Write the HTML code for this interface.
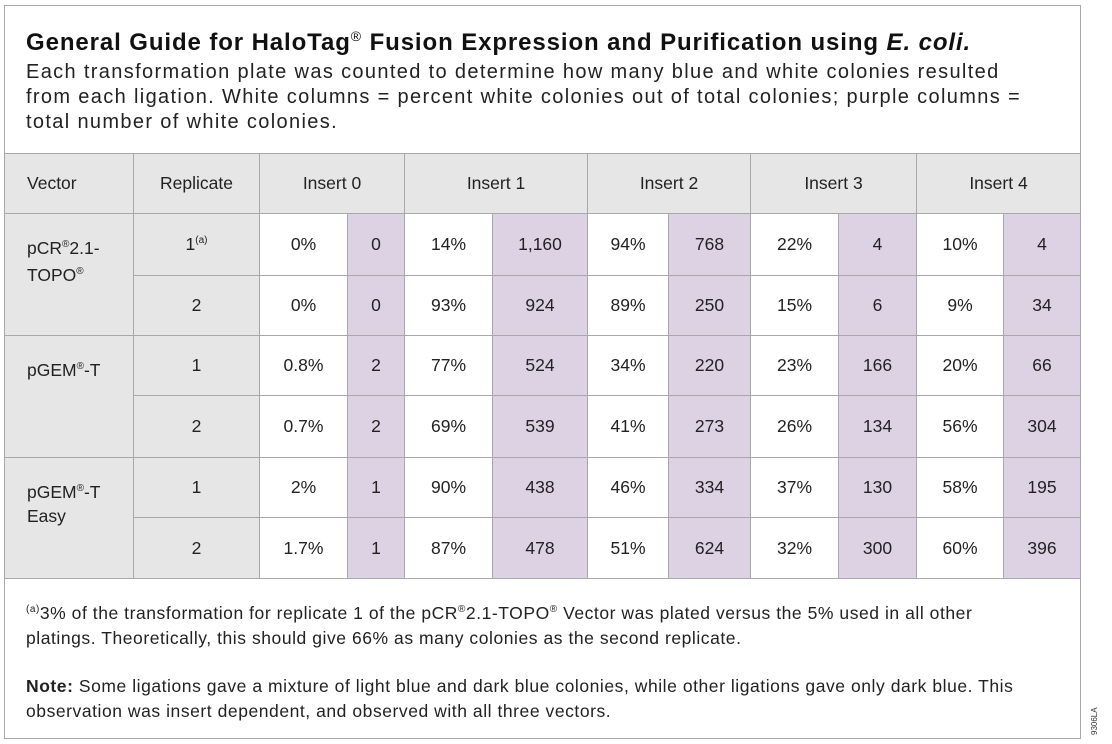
<!DOCTYPE html>
<html><head><meta charset="utf-8"><style>
body{margin:0;width:1112px;height:744px;background:#fff;font-family:"Liberation Sans",sans-serif;color:#222;position:relative;overflow:hidden}
.box{position:absolute;left:4px;top:5px;width:1075px;height:732px;border:1px solid #a8a8a8}
.t{position:absolute;left:26px;white-space:nowrap}
table{position:absolute;left:4px;top:153px;border-collapse:collapse;table-layout:fixed;font-size:17.5px}
td{border:1px solid #a8a8a8;text-align:center;padding:0;white-space:nowrap}
.h td{background:#e6e6e6;height:59px}
.g{background:#e6e6e6}
.p{background:#ddd1e4}
.v{text-align:left;vertical-align:top;padding:19px 0 0 22px;line-height:24px}
sup{font-size:10px}
</style></head><body>
<div class="box"></div>
<div class="t" style="top:28px;font-size:24px;letter-spacing:0.9px;font-weight:bold;color:#111">General Guide for HaloTag<sup style="font-size:14px;font-weight:normal">®</sup> Fusion Expression and Purification using <i>E. coli.</i></div>
<div class="t" style="top:60px;font-size:20px;letter-spacing:1.35px;line-height:25px">Each transformation plate was counted to determine how many blue and white colonies resulted<br>from each ligation. White columns = percent white colonies out of total colonies; purple columns =<br>total number of white colonies.</div>
<table>
<colgroup><col style="width:129px"><col style="width:126px"><col style="width:88px"><col style="width:57px"><col style="width:88px"><col style="width:95px"><col style="width:81px"><col style="width:82px"><col style="width:88px"><col style="width:78px"><col style="width:87px"><col style="width:77px"></colgroup>
<tr class="h"><td style="text-align:left;padding-left:22px">Vector</td><td>Replicate</td><td colspan="2">Insert 0</td><td colspan="2">Insert 1</td><td colspan="2">Insert 2</td><td colspan="2">Insert 3</td><td colspan="2">Insert 4</td></tr>
<tr style="height:62px"><td class="g v" rowspan="2">pCR<sup>®</sup>2.1-<br>TOPO<sup>®</sup></td><td class="g">1<sup>(a)</sup></td><td>0%</td><td class="p">0</td><td>14%</td><td class="p">1,160</td><td>94%</td><td class="p">768</td><td>22%</td><td class="p">4</td><td>10%</td><td class="p">4</td></tr>
<tr style="height:60px"><td class="g">2</td><td>0%</td><td class="p">0</td><td>93%</td><td class="p">924</td><td>89%</td><td class="p">250</td><td>15%</td><td class="p">6</td><td>9%</td><td class="p">34</td></tr>
<tr style="height:60px"><td class="g v" rowspan="2">pGEM<sup>®</sup>-T</td><td class="g">1</td><td>0.8%</td><td class="p">2</td><td>77%</td><td class="p">524</td><td>34%</td><td class="p">220</td><td>23%</td><td class="p">166</td><td>20%</td><td class="p">66</td></tr>
<tr style="height:62px"><td class="g">2</td><td>0.7%</td><td class="p">2</td><td>69%</td><td class="p">539</td><td>41%</td><td class="p">273</td><td>26%</td><td class="p">134</td><td>56%</td><td class="p">304</td></tr>
<tr style="height:60px"><td class="g v" rowspan="2">pGEM<sup>®</sup>-T<br>Easy</td><td class="g">1</td><td>2%</td><td class="p">1</td><td>90%</td><td class="p">438</td><td>46%</td><td class="p">334</td><td>37%</td><td class="p">130</td><td>58%</td><td class="p">195</td></tr>
<tr style="height:61px"><td class="g">2</td><td>1.7%</td><td class="p">1</td><td>87%</td><td class="p">478</td><td>51%</td><td class="p">624</td><td>32%</td><td class="p">300</td><td>60%</td><td class="p">396</td></tr>
</table>
<div class="t" style="top:597px;font-size:17.5px;letter-spacing:0.55px;line-height:25px"><sup>(a)</sup>3% of the transformation for replicate 1 of the pCR<sup>®</sup>2.1-TOPO<sup>®</sup> Vector was plated versus the 5% used in all other<br>platings. Theoretically, this should give 66% as many colonies as the second replicate.</div>
<div class="t" style="top:674px;font-size:17.5px;letter-spacing:0.55px;line-height:25px"><b>Note:</b> Some ligations gave a mixture of light blue and dark blue colonies, while other ligations gave only dark blue. This<br>observation was insert dependent, and observed with all three vectors.</div>
<div style="position:absolute;left:1090px;top:735px;transform:rotate(-90deg);transform-origin:0 0;font-size:8px;color:#333">9306LA</div>
</body></html>
